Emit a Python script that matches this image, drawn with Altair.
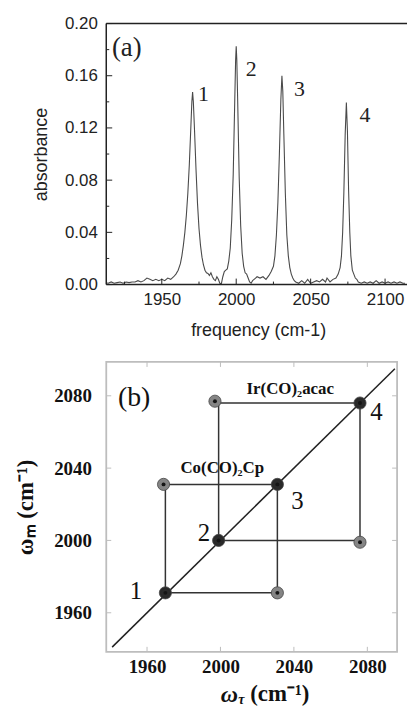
import altair as alt
import pandas as pd

# ---------------- panel (a) data: FTIR spectrum ----------------
freq = [1910, 1912, 1914, 1916, 1918, 1920, 1922, 1924, 1926, 1928, 1930, 1932, 1934, 1936, 1938,
        1940, 1942, 1944, 1946, 1948, 1950, 1952, 1954, 1956, 1958, 1959.5, 1961, 1962.5, 1963.5,
        1964.5, 1965.5, 1966.5, 1967.5, 1968.5, 1969.5, 1970.2, 1970.7, 1971.2, 1972, 1973, 1974,
        1975, 1976, 1977, 1978, 1979, 1980, 1981, 1982, 1983, 1984, 1985, 1986, 1987, 1988, 1989,
        1990, 1991, 1992, 1993, 1994, 1995, 1996, 1997, 1998, 1999, 1999.6, 2000, 2000.4, 2001,
        2002, 2003, 2004, 2005, 2006, 2007, 2008, 2009, 2010, 2011, 2012, 2013, 2014, 2016, 2018,
        2020, 2022, 2023.5, 2025, 2026, 2027, 2028, 2029, 2030, 2030.7, 2031.3, 2032, 2033, 2034,
        2035, 2036, 2037, 2038, 2039, 2040, 2042, 2044, 2046, 2048, 2050, 2052, 2054, 2056, 2058,
        2060, 2061, 2063, 2065, 2067, 2068.5, 2069.8, 2070.7, 2071.5, 2072.3, 2073.2, 2074, 2074.7,
        2075.5, 2076.3, 2077, 2078, 2079, 2080, 2081, 2082, 2084, 2086, 2088, 2090, 2092, 2094,
        2096, 2098, 2100, 2102, 2104, 2106, 2108, 2110, 2112, 2114, 2116, 2118, 2120]
absorb = [0.001, 0.0015, 0.001, 0.002, 0.001, 0.0015, 0.002, 0.001, 0.002, 0.0015, 0.002, 0.002,
          0.003, 0.002, 0.003, 0.005, 0.004, 0.003, 0.004, 0.003, 0.004, 0.003, 0.005, 0.004, 0.006,
          0.008, 0.011, 0.016, 0.022, 0.030, 0.040, 0.053, 0.070, 0.092, 0.120, 0.140, 0.1475, 0.140,
          0.118, 0.088, 0.062, 0.043, 0.030, 0.021, 0.015, 0.011, 0.009, 0.0085, 0.007, 0.009, 0.006,
          0.004, 0.003, 0.006, 0.004, 0.001, 0.0005, 0.006, 0.010, 0.011, 0.012, 0.018, 0.028, 0.050,
          0.085, 0.140, 0.172, 0.1825, 0.172, 0.140, 0.082, 0.045, 0.024, 0.014, 0.009, 0.008, 0.005,
          0.002, 0.001, 0.003, 0.004, 0.005, 0.006, 0.005, 0.006, 0.004, 0.007, 0.010, 0.014, 0.022,
          0.038, 0.063, 0.100, 0.142, 0.160, 0.148, 0.115, 0.070, 0.038, 0.022, 0.013, 0.008, 0.005,
          0.003, 0.002, 0.001, 0.003, 0.001, 0.004, 0.001, 0.002, 0.003, 0.002, 0.004, 0.002, 0.005,
          0.002, 0.004, 0.005, 0.008, 0.013, 0.022, 0.040, 0.070, 0.115, 0.1394, 0.118, 0.072, 0.040,
          0.022, 0.011, 0.008, 0.005, 0.004, 0.002, 0.001, 0.002, 0.001, 0.002, 0.001, 0.003, 0.001,
          0.002, 0.001, 0.002, 0.001, 0.002, 0.001, 0.002, 0.001, 0.001, 0.001, 0.001, 0.002]

a_num_text = ["1", "2", "3", "4"]
a_num_x = [1978, 2010, 2042.5, 2086.5]
a_num_y = [0.146, 0.165, 0.150, 0.130]

a_ytick_major = [0.00, 0.04, 0.08, 0.12, 0.16, 0.20]
a_ytick_minor = [0.02, 0.06, 0.10, 0.14, 0.18]
a_xtick_major = [1950, 2000, 2050, 2100]
a_xtick_minor = [1925, 1975, 2025, 2075]

# ---------------- panel (b) data: 2D spectrum ----------------
diag_ends = [1941, 2095]
co_path_x = [1970, 2031, 2031, 1970, 1970]
co_path_y = [1971, 1971, 2031, 2031, 1971]
ir_path_x = [1999, 2076, 2076, 1999, 1999]
ir_path_y = [2000, 2000, 2076, 2076, 2000]

blob_x = [1970, 1999, 2031, 2076, 1969, 2031, 1997, 2076]
blob_y = [1971, 2000, 2031, 2076, 2031, 1971, 2077, 1999]
blob_kind = ["diag", "diag", "diag", "diag", "cross", "cross", "cross", "cross"]

b_num_text = ["1", "2", "3", "4"]
b_num_x = [1954, 1991, 2042, 2085]
b_num_y = [1972, 2004, 2022, 2071]

b_ticks = [1960, 2000, 2040, 2080]

# ---------------- panel (a) ----------------
WA, HA = 301, 263
xa = alt.Scale(domain=[1912.7, 2113.4], nice=False, zero=False)
ya = alt.Scale(domain=[0, 0.2], nice=False, zero=False)
SANS = "Liberation Sans"
SERIF = "Liberation Serif"

spec_df = pd.DataFrame({"freq": freq, "absorb": absorb})
line = alt.Chart(spec_df).mark_line(color="#4a4a4a", strokeWidth=1.1, clip=True).encode(
    x=alt.X("freq:Q", scale=xa, axis=alt.Axis(
        values=a_xtick_major, format="d", title="frequency (cm-1)", ticks=False, domain=False,
        grid=False, labelFont=SANS, labelFontSize=17, labelColor="#222", labelPadding=7,
        titleFont=SANS, titleFontSize=18, titleFontWeight="normal", titleColor="#222",
        titlePadding=14, titleX=(259 - 106))),
    y=alt.Y("absorb:Q", scale=ya, axis=alt.Axis(
        values=a_ytick_major, format=".2f", title="absorbance", ticks=False, domain=False,
        grid=False, labelFont=SANS, labelFontSize=17, labelColor="#222", labelPadding=9,
        titleFont=SANS, titleFontSize=18, titleFontWeight="normal", titleColor="#222",
        titlePadding=14)),
)

one = pd.DataFrame({"k": [0]})
frame_col = "#222"
fr_top = alt.Chart(one).mark_rule(color=frame_col, strokeWidth=1.5).encode(
    x=alt.value(0), x2=alt.value(WA + 2), y=alt.value(0))
fr_left = alt.Chart(one).mark_rule(color=frame_col, strokeWidth=1.5).encode(
    x=alt.value(0), y=alt.value(0), y2=alt.value(HA))
fr_bottom = alt.Chart(one).mark_rule(color=frame_col, strokeWidth=1.5).encode(
    x=alt.value(0), x2=alt.value(WA + 2), y=alt.value(HA))

ytm = alt.Chart(pd.DataFrame({"v": a_ytick_major})).mark_rule(color="#222", strokeWidth=1).encode(
    y=alt.Y("v:Q", scale=ya), x=alt.value(0), x2=alt.value(6))
ytn = alt.Chart(pd.DataFrame({"v": a_ytick_minor})).mark_rule(color="#222", strokeWidth=1).encode(
    y=alt.Y("v:Q", scale=ya), x=alt.value(0), x2=alt.value(3))
xtm = alt.Chart(pd.DataFrame({"v": a_xtick_major})).mark_rule(color="#222", strokeWidth=1).encode(
    x=alt.X("v:Q", scale=xa), y=alt.value(HA), y2=alt.value(HA - 6))
xtn = alt.Chart(pd.DataFrame({"v": a_xtick_minor})).mark_rule(color="#222", strokeWidth=1).encode(
    x=alt.X("v:Q", scale=xa), y=alt.value(HA), y2=alt.value(HA - 3))

a_nums = alt.Chart(pd.DataFrame({"t": a_num_text, "x": a_num_x, "y": a_num_y})).mark_text(
    font=SERIF, fontSize=22, color="#222", baseline="middle", align="center").encode(
    x=alt.X("x:Q", scale=xa), y=alt.Y("y:Q", scale=ya), text="t:N")
a_lab = alt.Chart(pd.DataFrame({"t": ["(a)"], "x": [1926.5], "y": [0.181]})).mark_text(
    font=SERIF, fontSize=27, color="#222", baseline="middle", align="center").encode(
    x=alt.X("x:Q", scale=xa), y=alt.Y("y:Q", scale=ya), text="t:N")

panel_a = alt.layer(line, fr_top, fr_left, fr_bottom, ytm, ytn, xtm, xtn, a_nums, a_lab).properties(
    width=WA, height=HA, view=alt.ViewBackground(strokeOpacity=0))

# ---------------- panel (b) ----------------
WB, HB = 293, 292
xb = alt.Scale(domain=[1937.8, 2096.2], nice=False, zero=False)
yb = alt.Scale(domain=[1938.4, 2098.7], nice=False, zero=False)

diag = alt.Chart(pd.DataFrame({"x": diag_ends, "y": diag_ends})).mark_line(
    color="#222", strokeWidth=1.5).encode(
    x=alt.X("x:Q", scale=xb, axis=alt.Axis(
        values=b_ticks, format="d", title=None, ticks=False, domain=False, grid=False,
        labelFont=SERIF, labelFontSize=19, labelFontWeight="bold", labelColor="#111",
        labelPadding=6)),
    y=alt.Y("y:Q", scale=yb, axis=alt.Axis(
        values=b_ticks, format="d", title="ωₘ (cm⁻¹)", ticks=False, domain=False, grid=False,
        labelFont=SERIF, labelFontSize=19, labelFontWeight="bold", labelColor="#111",
        labelPadding=15, titleFont=SERIF, titleFontSize=23, titleFontWeight="bold",
        titleColor="#111", titlePadding=16)))

sq_df = pd.DataFrame({
    "x": co_path_x + ir_path_x,
    "y": co_path_y + ir_path_y,
    "sq": ["co"] * len(co_path_x) + ["ir"] * len(ir_path_x),
    "o": list(range(len(co_path_x))) + list(range(len(ir_path_x))),
})
squares = alt.Chart(sq_df).mark_line(color="#333", strokeWidth=1.5).encode(
    x=alt.X("x:Q", scale=xb), y=alt.Y("y:Q", scale=yb), detail="sq:N", order="o:Q")

blob_df = pd.DataFrame({"x": blob_x, "y": blob_y, "kind": blob_kind})
kind_outer = alt.Scale(domain=["diag", "cross"], range=["#2a2a2a", "#858585"])
kind_mid = alt.Scale(domain=["diag", "cross"], range=["#111111", "#555555"])
blob_outer = alt.Chart(blob_df).mark_point(filled=True, shape="circle", size=150, opacity=1,
                                           stroke="#444", strokeWidth=0.8).encode(
    x=alt.X("x:Q", scale=xb), y=alt.Y("y:Q", scale=yb),
    fill=alt.Fill("kind:N", scale=kind_outer, legend=None))
blob_mid = alt.Chart(blob_df).mark_point(filled=True, shape="circle", size=65, opacity=1,
                                         strokeWidth=0).encode(
    x=alt.X("x:Q", scale=xb), y=alt.Y("y:Q", scale=yb),
    fill=alt.Fill("kind:N", scale=kind_mid, legend=None))
blob_core = alt.Chart(blob_df).mark_point(filled=True, shape="circle", size=16, opacity=1,
                                          color="#151515").encode(
    x=alt.X("x:Q", scale=xb), y=alt.Y("y:Q", scale=yb))

tick_col = "#bdbdbd"
tdf = pd.DataFrame({"v": b_ticks})
tb_bottom = alt.Chart(tdf).mark_rule(color=tick_col).encode(
    x=alt.X("v:Q", scale=xb), y=alt.value(HB), y2=alt.value(HB - 5))
tb_top = alt.Chart(tdf).mark_rule(color=tick_col).encode(
    x=alt.X("v:Q", scale=xb), y=alt.value(0), y2=alt.value(5))
tb_left = alt.Chart(tdf).mark_rule(color=tick_col).encode(
    y=alt.Y("v:Q", scale=yb), x=alt.value(0), x2=alt.value(5))
tb_right = alt.Chart(tdf).mark_rule(color=tick_col).encode(
    y=alt.Y("v:Q", scale=yb), x=alt.value(WB), x2=alt.value(WB - 5))

b_nums = alt.Chart(pd.DataFrame({"t": b_num_text, "x": b_num_x, "y": b_num_y})).mark_text(
    font=SERIF, fontSize=25, color="#111", baseline="middle", align="center").encode(
    x=alt.X("x:Q", scale=xb), y=alt.Y("y:Q", scale=yb), text="t:N")
b_lab = alt.Chart(pd.DataFrame({"t": ["(b)"], "x": [1953], "y": [2079]})).mark_text(
    font=SERIF, fontSize=28, color="#111", baseline="middle", align="center").encode(
    x=alt.X("x:Q", scale=xb), y=alt.Y("y:Q", scale=yb), text="t:N")
b_mol = alt.Chart(pd.DataFrame({"t": ["Ir(CO)₂acac", "Co(CO)₂Cp"],
                                "x": [2038, 2001], "y": [2084, 2040]})).mark_text(
    font=SERIF, fontSize=17, fontWeight="bold", color="#111", baseline="middle",
    align="center").encode(
    x=alt.X("x:Q", scale=xb), y=alt.Y("y:Q", scale=yb), text="t:N")

xt_omega = alt.Chart(pd.DataFrame({"t": ["ω"]})).mark_text(
    font=SERIF, fontSize=24, fontWeight="bold", fontStyle="italic", color="#111",
    baseline="middle", align="center").encode(
    text="t:N", x=alt.value(124), y=alt.value(336))
xt_tau = alt.Chart(pd.DataFrame({"t": ["τ"]})).mark_text(
    font=SERIF, fontSize=14, fontWeight="bold", fontStyle="italic", color="#111",
    baseline="middle", align="center").encode(
    text="t:N", x=alt.value(136), y=alt.value(341))
xt_unit = alt.Chart(pd.DataFrame({"t": ["(cm⁻¹)"]})).mark_text(
    font=SERIF, fontSize=23, fontWeight="bold", color="#111",
    baseline="middle", align="left").encode(
    text="t:N", x=alt.value(145), y=alt.value(335))

panel_b = alt.layer(
    diag, squares, blob_outer, blob_mid, blob_core,
    tb_bottom, tb_top, tb_left, tb_right,
    b_nums, b_lab, b_mol, xt_omega, xt_tau, xt_unit,
).properties(width=WB, height=HB,
             view=alt.ViewBackground(stroke="#bdbdbd", strokeWidth=1.8))

chart = alt.vconcat(panel_a, panel_b, spacing=21).properties(
    padding={"top": 4, "left": 6, "right": 0, "bottom": 0}
).configure(background="white")

chart.save("out.html", embed_options={"renderer": "svg", "actions": False})
